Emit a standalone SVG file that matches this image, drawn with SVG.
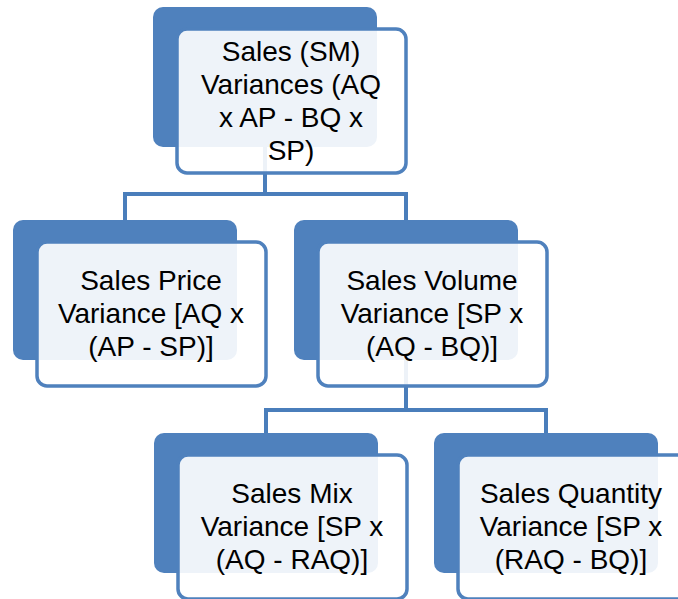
<svg xmlns="http://www.w3.org/2000/svg" width="678" height="599" viewBox="0 0 678 599">
<style>
.back{fill:#4F81BD;}
.front{fill:#FFFFFF;fill-opacity:0.9;stroke:#4F81BD;stroke-width:3.5;}
.conn{fill:none;stroke:#4A7EBB;stroke-width:4;}
text{font-family:"Liberation Sans",Arial,sans-serif;font-size:28px;fill:#000;text-anchor:middle;}
</style>
<rect width="678" height="599" fill="#FFFFFF"/>
<g id="connectors">
<path class="conn" d="M265,147 V194 M125,222 V194 H406 V222"/>
<path class="conn" d="M406,359 V410 M266,435 V410 H546 V435"/>
</g>
<g id="node-sm">
<rect class="back" x="153" y="7" width="224" height="140" rx="10"/>
<rect class="front" x="177" y="29" width="229" height="144" rx="10"/>
<text x="291" y="60.5">Sales (SM)</text>
<text x="291" y="93.5">Variances (AQ</text>
<text x="291" y="126.5">x AP - BQ x</text>
<text x="291" y="159.5">SP)</text>
</g>
<g id="node-price">
<rect class="back" x="13" y="220" width="224" height="140" rx="10"/>
<rect class="front" x="37" y="242" width="229" height="144" rx="10"/>
<text x="151" y="290">Sales Price</text>
<text x="151" y="323">Variance [AQ x</text>
<text x="151" y="356">(AP - SP)]</text>
</g>
<g id="node-volume">
<rect class="back" x="294" y="220" width="224" height="140" rx="10"/>
<rect class="front" x="318" y="242" width="229" height="144" rx="10"/>
<text x="432" y="290">Sales Volume</text>
<text x="432" y="323">Variance [SP x</text>
<text x="432" y="356">(AQ - BQ)]</text>
</g>
<g id="node-mix">
<rect class="back" x="154" y="433" width="224" height="140" rx="10"/>
<rect class="front" x="178" y="455" width="229" height="144" rx="10"/>
<text x="292" y="503">Sales Mix</text>
<text x="292" y="536">Variance [SP x</text>
<text x="292" y="569">(AQ - RAQ)]</text>
</g>
<g id="node-quantity">
<rect class="back" x="434" y="433" width="224" height="140" rx="10"/>
<rect class="front" x="458" y="455" width="229" height="144" rx="10"/>
<text x="571" y="503">Sales Quantity</text>
<text x="571" y="536">Variance [SP x</text>
<text x="571" y="569">(RAQ - BQ)]</text>
</g>
</svg>
